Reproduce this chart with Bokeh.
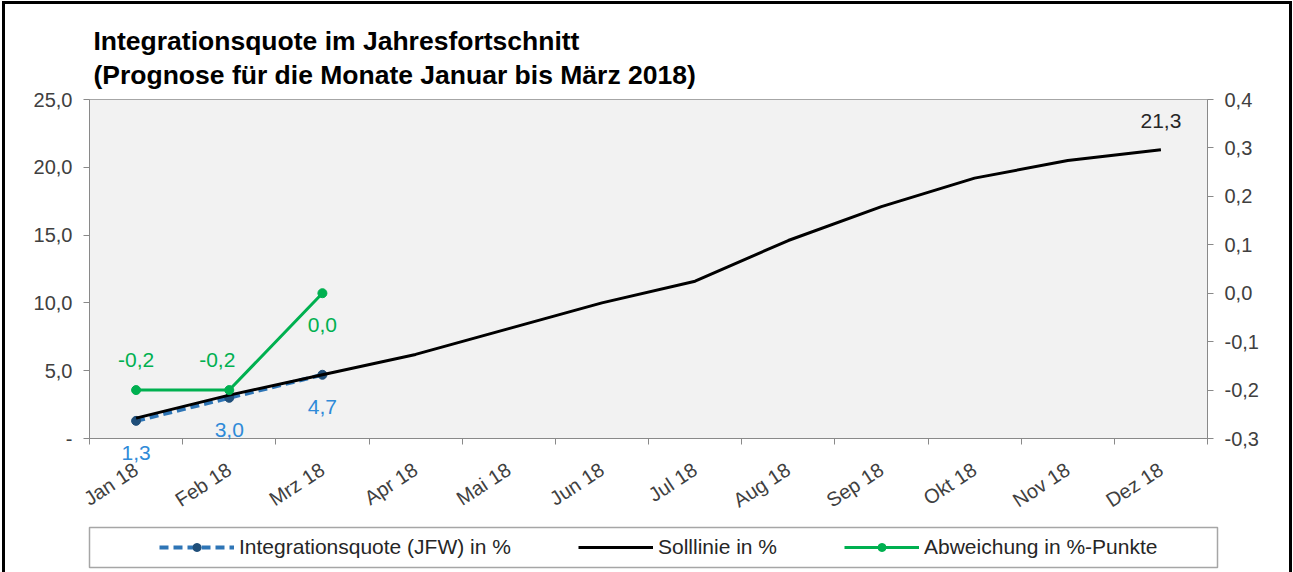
import math
from bokeh.plotting import figure
from bokeh.layouts import column
from bokeh.models import (Range1d, LinearAxis, FixedTicker, CustomJSTickFormatter,
                          Legend, LegendItem)
from bokeh.core.properties import value
from bokeh.embed import file_html
from bokeh.resources import INLINE

# ---------------- data ----------------
months = ["Jan 18", "Feb 18", "Mrz 18", "Apr 18", "Mai 18", "Jun 18",
          "Jul 18", "Aug 18", "Sep 18", "Okt 18", "Nov 18", "Dez 18"]
soll = [1.5, 3.2, 4.7, 6.2, 8.1, 10.0, 11.6, 14.6, 17.1, 19.2, 20.5, 21.3]
quote = [1.3, 3.0, 4.7]
abw = [-0.2, -0.2, 0.0]
left_ticks = [0, 5, 10, 15, 20, 25]
right_ticks = [-0.3, -0.2, -0.1, 0.0, 0.1, 0.2, 0.3, 0.4]
title1 = "Integrationsquote im Jahresfortschnitt"
title2 = "(Prognose für die Monate Januar bis März 2018)"
legend_labels = ["Integrationsquote (JFW) in %", "Solllinie in %", "Abweichung in %-Punkte"]

FONT = "Liberation Sans"
BLUE_LINE = "#2E75B6"
BLUE_MARK = "#1F4E79"
BLUE_TEXT = "#2F8AD8"
GREEN = "#00B050"
AXIS = "#898989"
TXT = "#404040"
W = 1284
NAN = float("nan")


def fmt(v):
    return f"{v:.1f}".replace(".", ",")


xs = [i + 0.5 for i in range(len(months))]

# ---------------- main chart ----------------
p = figure(frame_width=1118, frame_height=339,
           x_range=Range1d(0, len(months)), y_range=Range1d(left_ticks[0], left_ticks[-1]),
           output_backend="svg", toolbar_location=None,
           min_border_left=84, min_border_right=82, min_border_top=95, min_border_bottom=88)
p.extra_y_ranges = {"dev": Range1d(right_ticks[0], right_ticks[-1])}

p.background_fill_color = "#F2F2F2"
p.border_fill_color = "white"
p.outline_line_color = "#A6A6A6"
p.xgrid.visible = False
p.ygrid.visible = False

# title (two lines)
p.title.text = title1 + "\n" + title2
p.title.text_font = FONT
p.title.text_font_style = "bold"
p.title.text_font_size = "26.5px"
p.title.text_line_height = 1.15
p.title.text_color = "black"
p.title.align = "left"
p.title.offset = 4
p.title.standoff = 19

# x axis
xa = p.xaxis[0]
xa.ticker = FixedTicker(ticks=xs, minor_ticks=list(range(len(months) + 1)))
xa.formatter = CustomJSTickFormatter(args=dict(labels=months),
                                     code="return labels[Math.floor(tick)]")
xa.major_label_orientation = 0.58
xa.major_tick_out = 0
xa.major_tick_in = 0
xa.minor_tick_out = 6
xa.minor_tick_in = 0
xa.major_label_standoff = 23

# left axis
ya = p.yaxis[0]
ya.ticker = FixedTicker(ticks=left_ticks)
ya.formatter = CustomJSTickFormatter(
    code="return tick == 0 ? '-' : tick.toFixed(1).replace('.', ',')")
ya.major_tick_out = 6
ya.major_tick_in = 0
ya.minor_tick_out = 0
ya.minor_tick_in = 0
ya.major_label_standoff = 11

# right axis
ra = LinearAxis(y_range_name="dev", ticker=FixedTicker(ticks=right_ticks),
                formatter=CustomJSTickFormatter(code="return tick.toFixed(1).replace('.', ',')"))
ra.major_tick_out = 6
ra.major_tick_in = 0
ra.minor_tick_out = 0
ra.minor_tick_in = 0
ra.major_label_standoff = 11
p.add_layout(ra, "right")

for ax in [xa, ya, ra]:
    ax.axis_line_color = AXIS
    ax.major_tick_line_color = AXIS
    ax.minor_tick_line_color = AXIS
    ax.major_label_text_font = FONT
    ax.major_label_text_font_size = "20px"
    ax.major_label_text_color = TXT

# series
blue_line = dict(line_color=BLUE_LINE, line_width=4, line_dash="9 5")
blue_mark = dict(size=9, fill_color=BLUE_MARK, line_color=BLUE_MARK)
black_line = dict(line_color="black", line_width=3)
green_line = dict(line_color=GREEN, line_width=3)
green_mark = dict(size=9, fill_color=GREEN, line_color=GREEN)

nq = len(quote)
p.line(xs[:nq], quote, **blue_line)
p.scatter(xs[:nq], quote, **blue_mark)
p.line(xs, soll, **black_line)
na = len(abw)
p.line(xs[:na], abw, y_range_name="dev", **green_line)
p.scatter(xs[:na], abw, y_range_name="dev", **green_mark)

# data labels (overlay level so that they are not clipped to the frame)
lab_kw = dict(text_font=value(FONT), text_font_size="21px", text_align="center",
              text_baseline="middle", level="overlay")
p.text(x=xs[:nq], y=quote, text=[fmt(v) for v in quote], y_offset=32,
       text_color=BLUE_TEXT, **lab_kw)
p.text(x=xs[:na - 1], y=abw[:-1], text=[fmt(v) for v in abw[:-1]], y_range_name="dev",
       x_offset=[0, -12], y_offset=-30, text_color=GREEN, **lab_kw)
p.text(x=xs[na - 1:na], y=abw[-1:], text=[fmt(v) for v in abw[-1:]], y_range_name="dev",
       y_offset=32, text_color=GREEN, **lab_kw)
p.text(x=xs[-1:], y=soll[-1:], text=[fmt(soll[-1])], y_offset=-29,
       text_color="#262626", **lab_kw)

# ---------------- legend strip (its frame is the legend box) ----------------
lg = figure(width=W, height=46, frame_width=1128, frame_height=40,
            x_range=Range1d(0, 1), y_range=Range1d(0, 1),
            output_backend="svg", toolbar_location=None,
            x_axis_location=None, y_axis_location=None,
            min_border_left=77, min_border_right=79, min_border_top=1, min_border_bottom=5)
lg.xgrid.visible = False
lg.ygrid.visible = False
lg.background_fill_color = "white"
lg.border_fill_color = "white"
lg.outline_line_color = "#A6A6A6"
lg.outline_line_width = 1.5

# legend-only renderers (no visible data; they only carry the series styles)
lb = lg.line([NAN], [NAN], **blue_line)
lbm = lg.scatter([NAN], [NAN], **blue_mark)
lk = lg.line([NAN], [NAN], **black_line)
lgl = lg.line([NAN], [NAN], **green_line)
lgm = lg.scatter([NAN], [NAN], **green_mark)

legend = Legend(items=[LegendItem(label=legend_labels[0], renderers=[lb, lbm]),
                       LegendItem(label=legend_labels[1], renderers=[lk]),
                       LegendItem(label=legend_labels[2], renderers=[lgl, lgm])],
                orientation="horizontal", location=(70, 8),
                glyph_width=75, glyph_height=20, label_standoff=5, spacing=67,
                padding=0, margin=0, border_line_alpha=0, background_fill_alpha=0,
                label_text_font=FONT, label_text_font_size="21px",
                label_text_color="#262626", label_height=24)
lg.add_layout(legend, "center")

layout = column(p, lg, spacing=0,
                styles={"border-top": "3px solid black", "border-left": "3px solid black",
                        "border-right": "3px solid black", "margin-left": "2px",
                        "margin-top": "1px"})

open("out.html", "w").write(file_html(layout, INLINE))
